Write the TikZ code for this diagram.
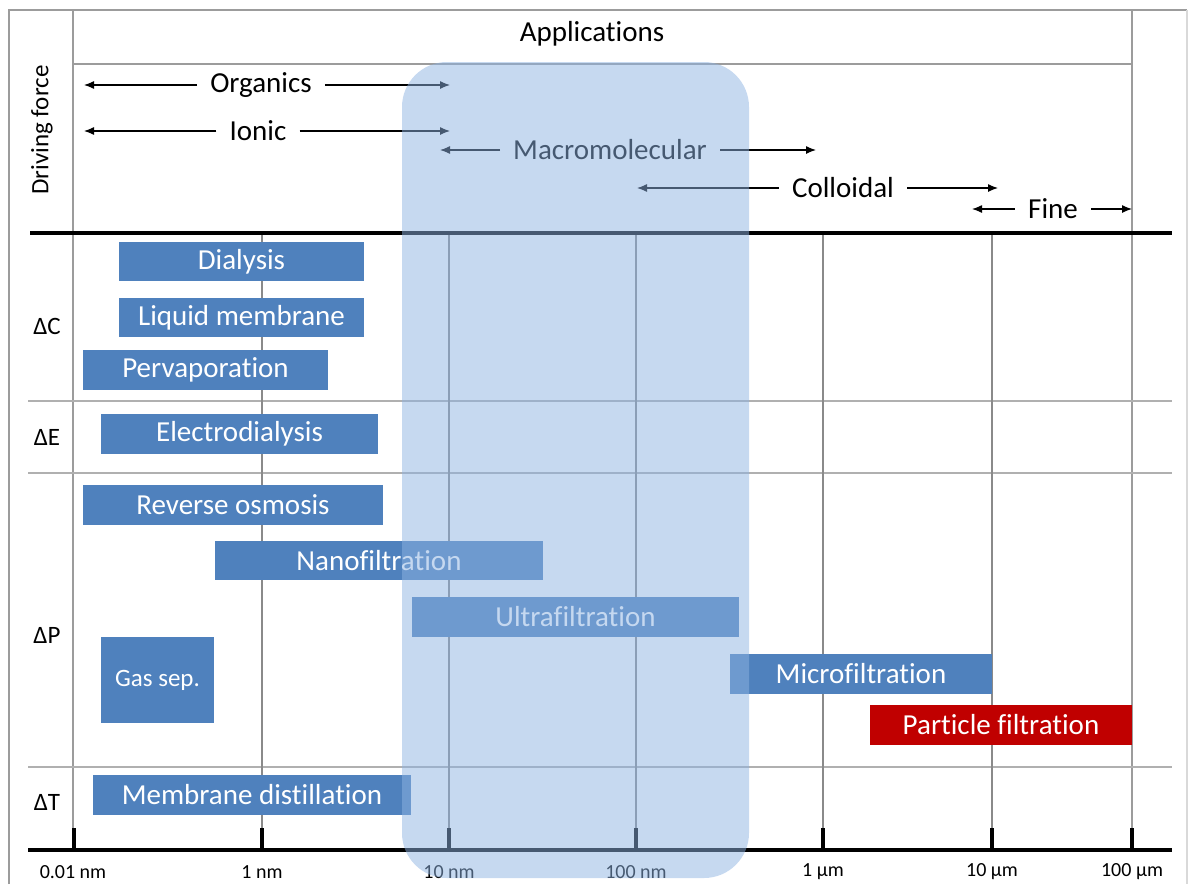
\documentclass[tikz,border=0pt]{standalone}
\usepackage{fontspec}
\setmainfont[Ligatures=NoCommon]{Carlito}
\usetikzlibrary{arrows.meta}

\definecolor{barblue}{HTML}{4F81BD}
\definecolor{barred}{HTML}{C00000}
\definecolor{shadeblue}{HTML}{8DB3E2}
\definecolor{framegray}{HTML}{9C9C9C}
\definecolor{gridgray}{HTML}{8A8A8A}

\tikzset{
  frame/.style={draw=framegray, line width=2.4pt},
  rowsep/.style={draw=framegray!80, line width=1.3pt},
  gridline/.style={draw=gridgray, line width=1.8pt},
  axisline/.style={draw=black, line width=3.6pt},
  tickmark/.style={draw=black, line width=3.6pt},
  bar/.style={fill=barblue, text=white, inner sep=0pt, font=\fontsize{29}{32}\selectfont},
  redbar/.style={bar, fill=barred},
  lbl/.style={inner xsep=13pt, inner ysep=0pt, font=\fontsize{29}{32}\selectfont},
  rowlbl/.style={inner sep=0pt, font=\fontsize{25}{28}\selectfont},
  ticklbl/.style={inner sep=0pt, font=\fontsize{20}{22}\selectfont},
  arr/.style={draw=black, line width=1.2pt, -{Latex[length=10pt,width=8pt]}}
}

\begin{document}
\begin{tikzpicture}[x=1pt, y=-1pt]
  \useasboundingbox (0,0) rectangle (1188,884);

  % Outer frame
  \draw[frame] (9,884) -- (9,10) -- (1187,10);
  \draw[draw=black!15, line width=1.5pt] (1187,10) -- (1187,884);

  % Header frame
  \draw[frame] (73,10) -- (73,850);
  \draw[frame] (73,64) -- (1132,64);
  \draw[frame] (1132,10) -- (1132,850);

  % Row separators
  \draw[rowsep] (28,401) -- (1172,401);
  \draw[rowsep] (28,473) -- (1172,473);
  \draw[rowsep] (28,767) -- (1172,767);

  % Grid lines
  \draw[gridline] (262,233) -- (262,850);
  \draw[gridline] (449,233) -- (449,850);
  \draw[gridline] (636,233) -- (636,850);
  \draw[gridline] (823,233) -- (823,850);
  \draw[gridline] (992,233) -- (992,850);

  % Thick lines
  \draw[axisline] (30,233) -- (1172,233);
  \draw[axisline] (28,850) -- (1172,850);

  % Tick marks
  \draw[tickmark] (74,828) -- (74,850);
  \draw[tickmark] (262,828) -- (262,850);
  \draw[tickmark] (449,828) -- (449,850);
  \draw[tickmark] (636,828) -- (636,850);
  \draw[tickmark] (823,828) -- (823,850);
  \draw[tickmark] (992,828) -- (992,850);
  \draw[tickmark] (1132,828) -- (1132,850);

  % Tick labels
  \node[ticklbl] (t001nm) at (73,872) {0.01 nm};
  \node[ticklbl] (t1nm) at (262,872) {1 nm};
  \node[ticklbl] (t10nm) at (449,872) {10 nm};
  \node[ticklbl] (t100nm) at (636,872) {100 nm};
  \node[ticklbl] (t1um) at (823,872) {1 µm};
  \node[ticklbl] (t10um) at (992,872) {10 µm};
  \node[ticklbl] (t100um) at (1132,872) {100 µm};

  % Headings
  \node[lbl] (applications) at (592,34) {Applications};
  \node[rowlbl, rotate=90] (driving) at (42,130) {Driving force};

  % Row labels
  \node[rowlbl] (dC) at (47,326) {ΔC};
  \node[rowlbl] (dE) at (47,437) {ΔE};
  \node[rowlbl] (dP) at (47,635) {ΔP};
  \node[rowlbl] (dT) at (47,802) {ΔT};

  % Bars
  \node[bar, minimum width=245, minimum height=39] (dialysis) at (241.5,261.5) {Dialysis};
  \node[bar, minimum width=245, minimum height=39] (liquid) at (241.5,317.5) {Liquid membrane};
  \node[bar, minimum width=245, minimum height=40] (pervap) at (205.5,370) {Pervaporation};
  \node[bar, minimum width=277, minimum height=40] (electro) at (239.5,434) {Electrodialysis};
  \node[bar, minimum width=300, minimum height=40] (reverse) at (233,505) {Reverse osmosis};
  \node[bar, minimum width=328, minimum height=39] (nano) at (379,560.5) {Nanofiltration};
  \node[bar, minimum width=327, minimum height=40] (ultra) at (575.5,617) {Ultrafiltration};
  \node[bar, minimum width=113, minimum height=86, font=\fontsize{25}{28}\selectfont] (gassep) at (157.5,680) {Gas sep.};
  \node[bar, minimum width=262, minimum height=40] (micro) at (861,674) {Microfiltration};
  \node[redbar, minimum width=262, minimum height=40] (particle) at (1001,724.5) {Particle filtration};
  \node[bar, minimum width=318, minimum height=40] (distill) at (252,795) {Membrane distillation};

  % Size ranges
  \node[lbl] (organics) at (261,85) {Organics};
  \coordinate (orgL) at (84,85);
  \coordinate (orgR) at (450,85);
  \draw[arr] (organics.west) -- (orgL);
  \draw[arr] (organics.east) -- (orgR);

  \node[lbl] (ionic) at (258,131) {Ionic};
  \coordinate (ionL) at (84,131);
  \coordinate (ionR) at (450,131);
  \draw[arr] (ionic.west) -- (ionL);
  \draw[arr] (ionic.east) -- (ionR);

  \node[lbl] (macro) at (610,150) {Macromolecular};
  \coordinate (macL) at (440,150);
  \coordinate (macR) at (816,150);
  \draw[arr] (macro.west) -- (macL);
  \draw[arr] (macro.east) -- (macR);

  \node[lbl] (colloidal) at (843,188) {Colloidal};
  \coordinate (colL) at (637,188);
  \coordinate (colR) at (998,188);
  \draw[arr] (colloidal.west) -- (colL);
  \draw[arr] (colloidal.east) -- (colR);

  \node[lbl] (fine) at (1053,209) {Fine};
  \coordinate (fineL) at (972,209);
  \coordinate (fineR) at (1132,209);
  \draw[arr] (fine.west) -- (fineL);
  \draw[arr] (fine.east) -- (fineR);

  % Highlight band
  \fill[shadeblue, opacity=0.5, rounded corners=45] (402,62) rectangle (749,878);
\end{tikzpicture}
\end{document}
